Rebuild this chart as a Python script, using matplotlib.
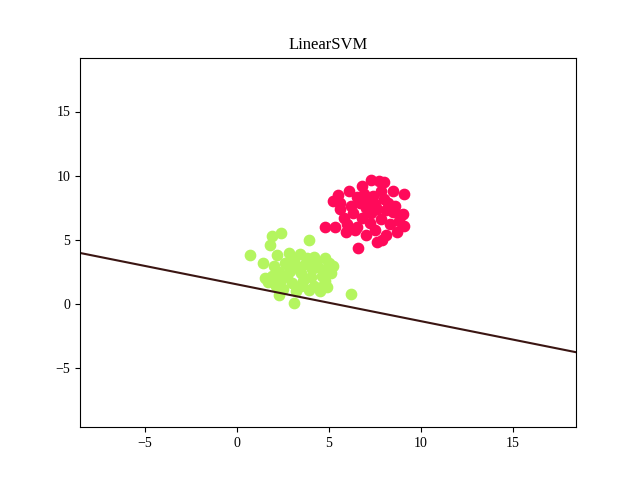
import matplotlib
matplotlib.use('Agg')
import matplotlib.pyplot as plt
import numpy as np

plt.rcParams['font.family'] = ['Liberation Serif', 'DejaVu Serif']

# class +1 (red) and class -1 (green) points
red_x = [5.2, 5.6, 6.1, 6.8, 7.3, 7.7, 8.0, 8.5, 9.1, 6.5, 7.0, 7.5, 8.0, 8.6, 5.8, 6.3, 6.8, 7.3, 7.8, 8.3,
         8.9, 5.3, 5.9, 6.4, 7.0, 7.5, 8.1, 8.7, 9.1, 4.8, 6.6, 7.6, 6.2, 5.6, 8.1, 8.2, 7.0, 7.6, 6.7, 7.2,
         7.9, 6.0, 8.5, 7.4, 6.9, 5.5, 9.0, 8.8, 6.5, 7.8]
red_y = [8.0, 7.4, 8.8, 9.2, 9.7, 9.6, 9.5, 8.8, 8.6, 8.3, 8.0, 7.8, 8.2, 7.6, 6.7, 7.1, 6.7, 7.1, 6.6, 6.2,
         6.9, 6.0, 5.6, 5.8, 5.4, 5.8, 5.4, 5.6, 6.1, 6.0, 4.4, 4.8, 7.6, 7.9, 7.3, 7.9, 7.5, 7.4, 7.9, 6.3,
         5.0, 6.2, 7.2, 8.4, 8.6, 8.5, 7.0, 6.5, 6.0, 8.8]
green_x = [0.7, 1.4, 1.8, 1.9, 2.4, 3.9, 2.2, 2.8, 3.4, 4.2, 4.8, 5.2, 2.0, 2.6, 3.1, 3.7, 4.3, 4.9, 2.3, 2.9,
           3.5, 4.1, 4.6, 5.1, 1.7, 2.4, 3.0, 3.6, 4.2, 4.8, 2.5, 3.2, 3.9, 4.5, 2.3, 3.1, 6.2, 4.7, 1.9, 3.3,
           4.0, 2.7, 3.8, 5.0, 2.1, 4.4, 3.5, 2.8, 4.9, 1.5]
green_y = [3.8, 3.2, 4.6, 5.3, 5.5, 5.0, 3.8, 4.0, 3.9, 3.7, 3.6, 3.0, 3.0, 3.2, 3.4, 3.1, 3.3, 2.8, 2.5, 2.6,
           2.4, 2.7, 2.2, 2.4, 1.7, 1.9, 1.6, 1.8, 1.4, 1.8, 1.2, 1.0, 1.1, 1.0, 0.7, 0.1, 0.8, 1.4, 2.2, 2.9,
           2.1, 2.2, 3.6, 3.2, 1.4, 2.9, 1.4, 2.9, 1.3, 2.0]

# separating line y = slope * x + intercept
slope = -0.287
intercept = 1.53
xlim = (-8.53, 18.42)
ylim = (-9.6, 19.2)

fig, ax = plt.subplots(figsize=(6.4, 4.8), dpi=100)
ax.scatter(red_x, red_y, c='#ff0a5a', s=55)
ax.scatter(green_x, green_y, c='#b4f55f', s=55)

xs = np.array(xlim)
ax.plot(xs, slope * xs + intercept, color='#3a1512', linewidth=1.5)

ax.set_xlim(*xlim)
ax.set_ylim(*ylim)
ax.set_title('LinearSVM')
plt.savefig('out.png')
